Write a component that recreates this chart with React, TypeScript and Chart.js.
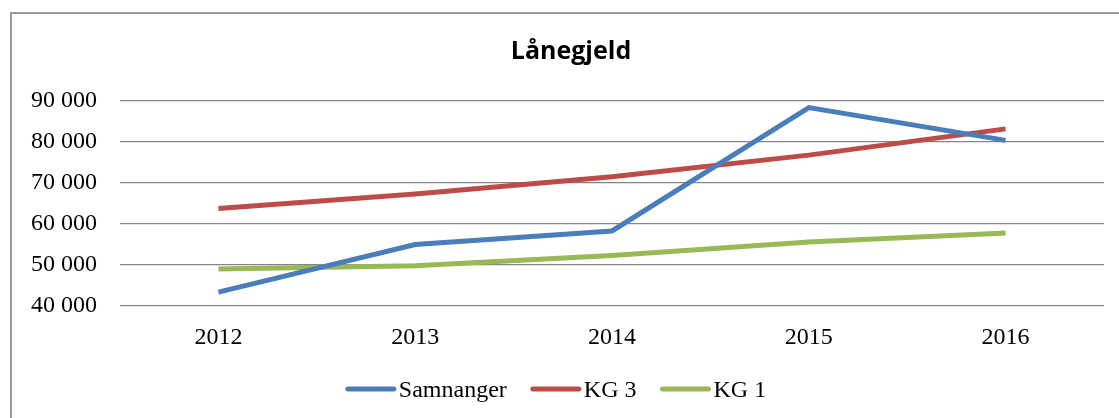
import React, { useEffect, useRef } from "react";
import { Chart, registerables } from "chart.js";

Chart.register(...registerables);

const categories = ["2012", "2013", "2014", "2015", "2016"];
const samnanger = [43400, 55000, 58300, 88400, 80400];
const kg3 = [63800, 67300, 71500, 76800, 83200];
const kg1 = [49000, 49800, 52300, 55600, 57800];
const seriesNames = ["Samnanger", "KG 3", "KG 1"];
const seriesColors = ["#4A7EBB", "#BE4B48", "#98B954"];
const chartTitle = "Lånegjeld";
const yMin = 40000;
const yMax = 90000;
const yStep = 10000;

const fmt = (v: number) => {
  const s = Math.round(v).toString();
  return s.replace(/\B(?=(\d{3})+(?!\d))/g, " ");
};

const serif = "'Liberation Serif', 'Times New Roman', serif";

const titleLegendPlugin = {
  id: "titleLegend",
  afterDraw(chart: any) {
    const ctx = chart.ctx as CanvasRenderingContext2D;
    ctx.save();
    // title
    ctx.fillStyle = "#000";
    ctx.font = "bold 25px 'Open Sans', sans-serif";
    ctx.textAlign = "center";
    ctx.textBaseline = "alphabetic";
    ctx.fillText(chartTitle, 571, 59);
    // legend
    ctx.font = `24px ${serif}`;
    const lineLen = 50;
    const gapText = 3;
    const gapItem = 24;
    const widths = chart.data.datasets.map((d: any) => ctx.measureText(d.label).width);
    const total =
      widths.reduce((a: number, b: number) => a + b, 0) +
      widths.length * (lineLen + gapText) +
      (widths.length - 1) * gapItem;
    let x = 556 - total / 2;
    const yLine = 389;
    const yText = 397;
    ctx.textAlign = "left";
    chart.data.datasets.forEach((d: any, i: number) => {
      ctx.strokeStyle = d.borderColor;
      ctx.lineWidth = 5;
      ctx.lineCap = "round";
      ctx.beginPath();
      ctx.moveTo(x + 2, yLine);
      ctx.lineTo(x + lineLen - 2, yLine);
      ctx.stroke();
      x += lineLen + gapText;
      ctx.fillStyle = "#000";
      ctx.fillText(d.label, x, yText);
      x += widths[i] + gapItem;
    });
    ctx.restore();
  },
};

export default function App() {
  const ref = useRef<HTMLCanvasElement | null>(null);
  useEffect(() => {
    document.body.style.margin = "0";
    const values = [samnanger, kg3, kg1];
    const chart = new Chart(ref.current as HTMLCanvasElement, {
      type: "line",
      data: {
        labels: categories,
        datasets: seriesNames.map((name, i) => ({
          label: name,
          data: values[i],
          borderColor: seriesColors[i],
          backgroundColor: seriesColors[i],
          borderWidth: 5,
          pointRadius: 0,
          tension: 0,
        })),
      },
      options: {
        animation: false,
        responsive: false,
        maintainAspectRatio: false,
        layout: { padding: { left: 0, right: 15, top: 101, bottom: 51 } },
        plugins: {
          tooltip: { enabled: false },
          title: { display: false },
          legend: { display: false },
        },
        scales: {
          x: {
            offset: true,
            grid: { display: false, drawTicks: false },
            border: { display: false },
            ticks: { color: "#000", font: { family: serif, size: 24 }, padding: 17 },
            afterFit: (s: any) => {
              s.height = 61;
            },
          },
          y: {
            min: yMin,
            max: yMax,
            grid: { color: "#868686", lineWidth: 1.3, drawTicks: false },
            border: { display: false },
            ticks: {
              stepSize: yStep,
              color: "#000",
              font: { family: serif, size: 24 },
              padding: 23,
              callback: (v: any) => fmt(Number(v)),
            },
            afterFit: (s: any) => {
              s.width = 120;
            },
          },
        },
      },
      plugins: [titleLegendPlugin],
    });
    return () => chart.destroy();
  }, []);
  return (
    <div style={{ position: "relative", width: 1119, height: 418, overflow: "hidden", background: "#fff" }}>
      <div
        style={{
          position: "absolute",
          left: 10,
          top: 12,
          width: 1200,
          height: 500,
          border: "2px solid #9a9a9a",
        }}
      />
      <canvas ref={ref} width={1119} height={418} style={{ position: "absolute", left: 0, top: 0 }} />
    </div>
  );
}
